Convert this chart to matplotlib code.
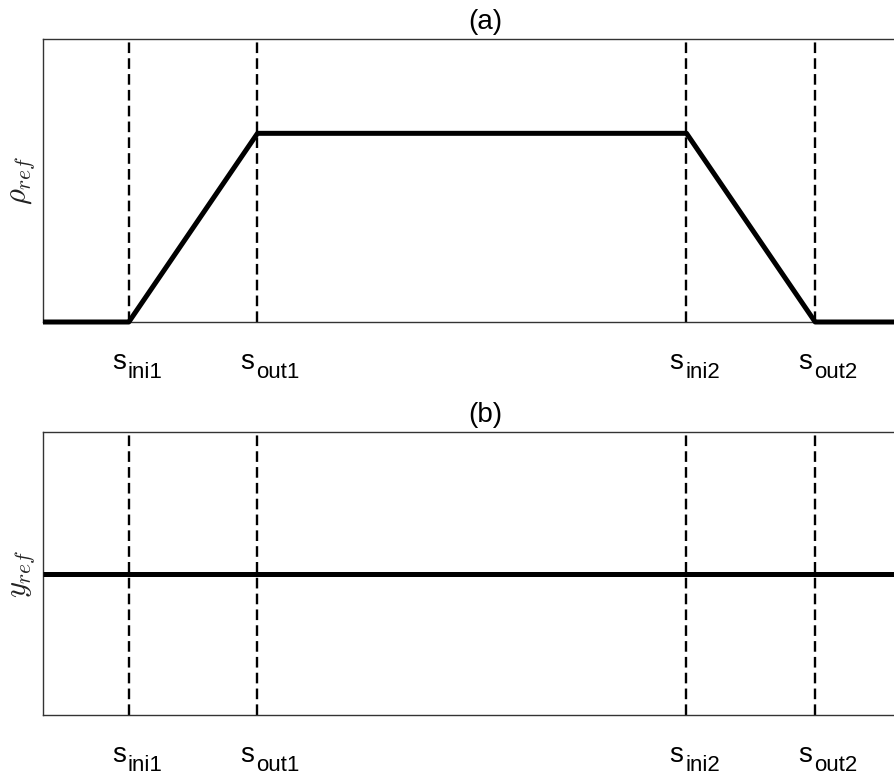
import matplotlib
matplotlib.use("Agg")
import matplotlib.pyplot as plt

# transition points along s
s_marks = [1.0, 2.5, 7.5, 9.0]
s_subs = ["ini1", "out1", "ini2", "out2"]

# (a) rho_ref profile
rho_s = [0.0, 1.0, 2.5, 7.5, 9.0, 10.0]
rho_v = [0.0, 0.0, 1.0, 1.0, 0.0, 0.0]

# (b) y_ref profile
y_s = [0.0, 10.0]
y_v = [1.0, 1.0]

plt.rcParams["font.family"] = ["Liberation Sans", "DejaVu Sans"]
plt.rcParams["mathtext.fontset"] = "cm"

fig = plt.figure(figsize=(8.95, 7.84), dpi=100)
W, H = 895.0, 784.0
ax_a = fig.add_axes([43 / W, 1 - 322 / H, 858 / W, 283 / H])
ax_b = fig.add_axes([43 / W, 1 - 715 / H, 858 / W, 283 / H])

panels = [
    (ax_a, rho_s, rho_v, (0, 1.5), r"$\rho_{ref}$", "(a)"),
    (ax_b, y_s, y_v, (0, 2.0), r"$y_{ref}$", "(b)"),
]

for ax, xs, ys, ylim, ylab, title in panels:
    for s in s_marks:
        ax.axvline(s, color="black", linestyle=(0, (4.5, 2.2)), linewidth=1.7, zorder=1)
    ax.plot(xs, ys, color="black", linewidth=3.6, solid_capstyle="butt", zorder=3,
            clip_on=False)
    ax.set_xlim(0, 10)
    ax.set_ylim(*ylim)
    ax.set_xticks([])
    ax.set_yticks([])
    ax.spines["right"].set_visible(False)
    for side in ("left", "top", "bottom"):
        ax.spines[side].set_color("#333333")
        ax.spines[side].set_linewidth(1.0)

    # "s" with a dropped subscript, split around each marker line
    for s, sub in zip(s_marks, s_subs):
        ax.annotate("s", xy=(s, 0), xycoords=("data", "axes fraction"),
                    xytext=(-3, -47), textcoords="offset pixels",
                    ha="right", va="baseline", fontsize=20, annotation_clip=False)
        ax.annotate(sub, xy=(s, 0), xycoords=("data", "axes fraction"),
                    xytext=(-1, -56), textcoords="offset pixels",
                    ha="left", va="baseline", fontsize=16, annotation_clip=False)

    ax.set_ylabel(ylab, fontsize=22, color="#222222", labelpad=4)
    ax.set_title(title, fontsize=20, x=0.516, pad=7)

fig.savefig("out.png", dpi=100)
